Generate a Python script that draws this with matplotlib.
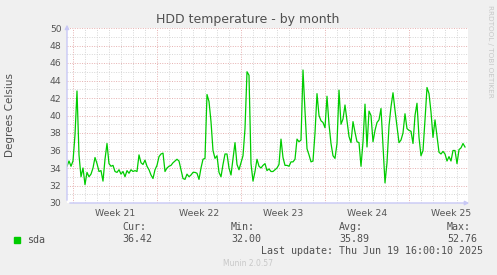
import numpy as np
import pandas as pd
import matplotlib
matplotlib.use('Agg')
import matplotlib.pyplot as plt
from matplotlib.patches import Rectangle

# sda temperature, one reading every 4 hours, ending at the last update
sda = [34.2, 34.8, 34.2, 34.8, 37.8, 42.8, 35.5, 33.0, 34.0, 32.1,
       33.5, 33.0, 33.3, 34.0, 35.2, 34.5, 33.6, 33.7, 32.5, 35.0,
       36.8, 34.5, 34.2, 34.3, 33.6,
       33.5, 33.8, 33.3, 33.6, 33.0, 33.7, 33.4, 33.8, 33.6, 33.7,
       33.6, 35.5, 34.6, 34.4, 34.9, 34.2, 33.8, 33.2, 32.8, 33.8,
       34.3, 35.3, 35.6, 35.7, 33.6,
       34.0, 34.2, 34.3, 34.6, 34.8, 35.0, 34.8, 33.8, 32.8, 32.7,
       33.3, 33.0, 33.2, 33.5, 33.5, 33.4, 32.7, 34.0, 35.0, 35.1,
       42.4, 41.6, 39.3, 36.0, 35.1,
       35.4, 33.5, 33.0, 34.4, 35.6, 35.6, 34.0, 33.2, 35.0, 36.9,
       34.4, 33.8, 34.6, 35.4, 38.5, 45.0, 44.6, 34.5, 32.5, 33.6,
       35.0, 34.2, 34.0, 34.3, 34.5,
       33.7, 33.9, 33.6, 33.6, 33.8, 34.0, 34.4, 37.3, 35.2, 34.3,
       34.3, 34.2, 34.7, 34.7, 35.0, 37.3, 37.0, 37.2, 45.2, 40.5,
       36.2, 35.5, 34.7, 34.8, 38.0,
       42.5, 40.0, 39.4, 39.2, 38.6, 42.2, 39.0, 36.8, 35.4, 35.1,
       36.8, 42.9, 39.0, 39.6, 41.2, 39.4, 37.6, 36.9, 39.3, 38.1,
       37.0, 36.9, 34.2, 37.0, 41.3,
       36.4, 40.5, 40.0, 37.0, 38.3, 39.2, 39.5, 40.8, 36.5, 32.3,
       34.6, 38.8, 41.0, 42.6, 40.6, 38.8, 36.9, 37.2, 38.0, 40.2,
       38.5, 38.3, 38.2, 36.8, 40.0,
       41.4, 37.5, 35.4, 36.0, 39.5, 43.2, 42.5, 40.4, 37.5, 39.5,
       37.7, 35.8, 35.6, 35.9, 35.6, 34.8, 35.3, 34.8, 36.0, 36.0,
       34.5, 36.1, 36.3, 36.8, 36.4]

last_update = pd.Timestamp('2025-06-19 16:00')
times = pd.date_range(end=last_update, periods=len(sda), freq='4h')
week_starts = pd.date_range('2025-05-18', periods=5, freq='7D')
week_labels = ['Week 21', 'Week 22', 'Week 23', 'Week 24', 'Week 25']
y_ticks = np.arange(30, 51, 2)

legend_heads = ['Cur:', 'Min:', 'Avg:', 'Max:']
legend_vals = ['36.42', '32.00', '35.89', '52.76']

W, H = 497, 275
fig = plt.figure(figsize=(W / 100, H / 100), dpi=100, facecolor='#f0f0f0')
ax = fig.add_axes([67 / W, 1 - 203 / H, 401 / W, 175 / H])
ax.set_facecolor('white')

x0 = times[0]
x1 = times[-1] + pd.Timedelta(hours=6)
ax.set_xlim(x0, x1)
ax.set_ylim(30, 50)

dot = (0, (1, 1.5))
red_grid = '#e6b0b0'
gray_grid = '#d6d6d6'
# grid: days gray, weeks red; degrees gray, every 2 red
for d in pd.date_range(x0.normalize(), x1, freq='D'):
    if d < x0:
        continue
    c = red_grid if d in week_starts else gray_grid
    ax.axvline(d, color=c, lw=0.7, ls=dot, zorder=1)
for v in range(31, 51):
    c = red_grid if v % 2 == 0 else gray_grid
    ax.axhline(v, color=c, lw=0.7, ls=dot, zorder=1)

ax.plot(times, sda, color='#00cc00', lw=0.9, zorder=3)

for s in ax.spines.values():
    s.set_visible(False)
axis_col = '#c8c8f5'
ax.annotate('', xy=(0, 1.035), xytext=(0, 0), xycoords='axes fraction',
            arrowprops=dict(arrowstyle='-|>', color=axis_col, lw=1, mutation_scale=6))
ax.annotate('', xy=(1.01, 0), xytext=(0, 0), xycoords='axes fraction',
            arrowprops=dict(arrowstyle='-|>', color=axis_col, lw=1, mutation_scale=6))

ax.set_yticks(y_ticks)
ax.set_yticklabels([str(v) for v in y_ticks])
ax.set_xticks(week_starts + pd.Timedelta(hours=84))
ax.set_xticklabels(week_labels)
ax.tick_params(axis='both', length=0, labelsize=6.7, colors='#555555')
ax.tick_params(axis='y', pad=4)
ax.tick_params(axis='x', pad=4)

fig.text(248 / W, 1 - 19 / H, 'HDD temperature - by month', ha='center', va='center',
         fontsize=9, color='#505050')
fig.text(10 / W, 1 - 115 / H, 'Degrees Celsius', rotation=90, ha='center', va='center',
         fontsize=7.5, color='#505050')
fig.text(490 / W, 1 - 5 / H, 'RRDTOOL / TOBI OETIKER', rotation=270, ha='center', va='top',
         fontsize=5.2, color='#c8c8c8')

mono = 'DejaVu Sans Mono'
fig.patches.append(Rectangle((14 / W, 1 - 243 / H), 6 / W, 6 / H, color='#00cc00',
                             transform=fig.transFigure, figure=fig))
fig.text(27 / W, 1 - 240 / H, 'sda', ha='left', va='center', fontsize=7.2,
         family=mono, color='#505050')
for i, (h, v) in enumerate(zip(legend_heads, legend_vals)):
    xp = [122, 231, 339, 447][i] / W
    fig.text(xp, 1 - 227 / H, h, ha='left', va='center', fontsize=7.2, family=mono, color='#505050')
    fig.text(xp, 1 - 239 / H, v, ha='left', va='center', fontsize=7.2, family=mono, color='#505050')
fig.text(483 / W, 1 - 251 / H, 'Last update: Thu Jun 19 16:00:10 2025', ha='right', va='center',
         fontsize=7.2, family=mono, color='#505050')
fig.text(248 / W, 1 - 264 / H, 'Munin 2.0.57', ha='center', va='center', fontsize=5.5,
         color='#c8c8c8')

fig.savefig('out.png', dpi=100, facecolor=fig.get_facecolor())
